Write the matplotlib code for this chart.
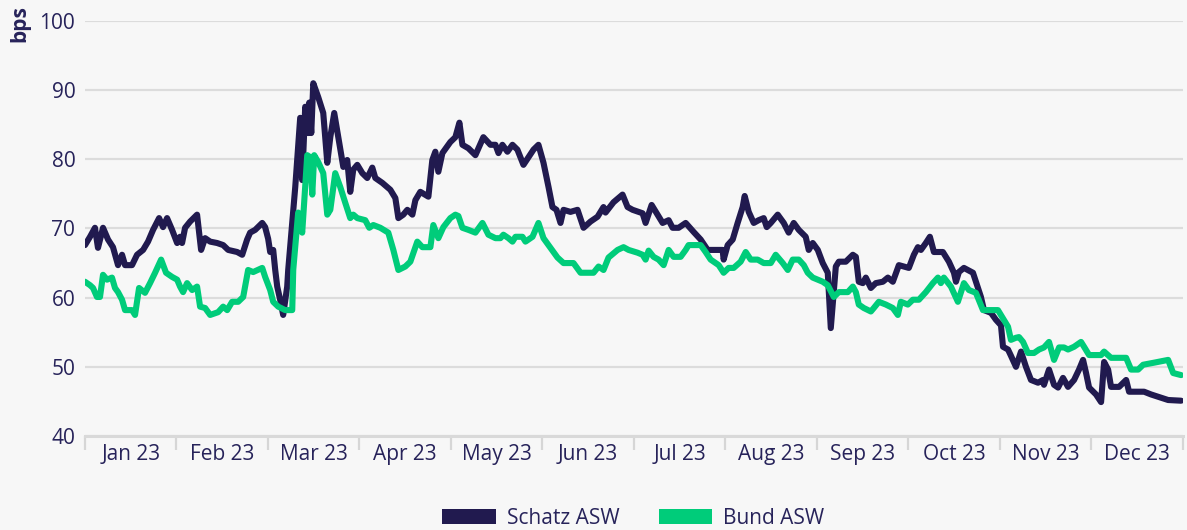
#!/usr/bin/env python
#
# Schatz vs Bund asset swap spreads, 2023
#
import numpy as np
import matplotlib
matplotlib.use("Agg")
from matplotlib import pyplot as plt
from matplotlib.patches import Patch

######################################################
# Data (time in months since 1 Jan 2023, value in bps)
######################################################
months = ["Jan 23", "Feb 23", "Mar 23", "Apr 23", "May 23", "Jun 23",
          "Jul 23", "Aug 23", "Sep 23", "Oct 23", "Nov 23", "Dec 23"]

schatz_t = [0.000, 0.055, 0.109, 0.142, 0.197, 0.252, 0.306, 0.361, 0.405, 0.438,
            0.514, 0.569, 0.635, 0.689, 0.744, 0.810, 0.853, 0.897, 0.952, 1.007,
            1.039, 1.061, 1.094, 1.149, 1.225, 1.269, 1.313, 1.368, 1.444, 1.510,
            1.565, 1.663, 1.718, 1.772, 1.805, 1.860, 1.937, 1.969, 2.002, 2.024,
            2.057, 2.079, 2.101, 2.133, 2.166, 2.210, 2.221, 2.265, 2.298, 2.352,
            2.374, 2.407, 2.440, 2.451, 2.473, 2.495, 2.549, 2.604, 2.648, 2.681,
            2.724, 2.768, 2.823, 2.866, 2.899, 2.932, 2.976, 3.031, 3.085, 3.140,
            3.173, 3.249, 3.337, 3.392, 3.425, 3.479, 3.523, 3.578, 3.611, 3.665,
            3.753, 3.796, 3.829, 3.862, 3.906, 3.993, 4.048, 4.092, 4.125, 4.190,
            4.267, 4.354, 4.431, 4.486, 4.519, 4.562, 4.617, 4.672, 4.726, 4.792,
            4.847, 4.902, 4.956, 5.011, 5.066, 5.109, 5.153, 5.197, 5.230, 5.306,
            5.383, 5.449, 5.525, 5.602, 5.667, 5.689, 5.777, 5.875, 5.930, 5.985,
            6.094, 6.127, 6.193, 6.258, 6.313, 6.379, 6.422, 6.488, 6.565, 6.652,
            6.729, 6.805, 6.893, 6.969, 6.980, 7.024, 7.079, 7.133, 7.188, 7.210,
            7.254, 7.309, 7.363, 7.418, 7.451, 7.495, 7.571, 7.637, 7.691, 7.746,
            7.801, 7.877, 7.910, 7.954, 8.009, 8.063, 8.118, 8.151, 8.206, 8.239,
            8.315, 8.392, 8.425, 8.457, 8.501, 8.534, 8.589, 8.643, 8.720, 8.775,
            8.829, 8.895, 8.950, 9.004, 9.059, 9.103, 9.136, 9.190, 9.234, 9.278,
            9.376, 9.442, 9.497, 9.519, 9.551, 9.606, 9.705, 9.737, 9.792, 9.825,
            9.902, 9.956, 10.011, 10.033, 10.088, 10.120, 10.175, 10.230, 10.284, 10.339,
            10.416, 10.470, 10.481, 10.536, 10.591, 10.635, 10.689, 10.744, 10.810, 10.864,
            10.908, 10.941, 10.974, 11.050, 11.105, 11.138, 11.182, 11.214, 11.302, 11.379,
            11.411, 11.575, 11.652, 11.838, 11.980]
schatz = [67.6, 68.8, 70.1, 67.2, 70.1, 68.4, 67.3, 64.7, 66.2, 64.7,
          64.7, 66.2, 66.9, 68.1, 69.8, 71.5, 70.2, 71.5, 69.8, 67.9,
          68.8, 67.9, 70.1, 71.0, 72.0, 66.9, 68.6, 68.1, 67.9, 67.6,
          66.9, 66.6, 66.2, 68.4, 69.4, 69.8, 70.8, 70.2, 68.5, 66.6,
          66.9, 64.0, 61.6, 59.7, 57.5, 61.6, 64.0, 70.8, 76.0, 86.0,
          77.0, 87.6, 83.8, 88.2, 83.8, 91.0, 89.0, 86.7, 79.5, 83.2,
          86.7, 83.2, 78.9, 79.9, 75.3, 78.5, 79.2, 78.0, 77.3, 78.8,
          77.3, 76.6, 75.6, 74.4, 71.5, 72.0, 72.7, 72.0, 74.1, 75.3,
          74.6, 79.9, 81.1, 78.2, 80.9, 82.5, 83.2, 85.3, 82.1, 81.6,
          80.6, 83.2, 82.1, 82.1, 80.9, 82.1, 81.1, 82.1, 81.4, 79.2,
          80.3, 81.4, 82.1, 79.5, 76.0, 73.1, 72.7, 70.8, 72.7, 72.4,
          72.7, 70.1, 71.0, 71.7, 73.1, 72.3, 73.8, 74.9, 73.1, 72.7,
          72.2, 70.8, 73.4, 72.0, 70.8, 71.2, 70.1, 70.1, 70.8, 69.5,
          68.4, 66.9, 66.9, 66.9, 65.5, 67.6, 68.4, 70.8, 73.1, 74.7,
          72.4, 70.8, 71.2, 71.5, 70.2, 70.8, 72.0, 70.8, 69.4, 70.8,
          69.8, 68.8, 66.9, 67.9, 66.9, 65.0, 63.6, 55.6, 64.5, 65.2,
          65.2, 66.2, 65.9, 62.3, 62.1, 62.9, 61.4, 62.1, 62.3, 62.9,
          62.3, 64.7, 64.5, 64.3, 66.2, 67.3, 66.9, 67.9, 68.8, 66.6,
          66.6, 65.2, 63.6, 62.3, 63.7, 64.3, 63.6, 62.3, 60.1, 58.2,
          57.8, 56.8, 56.0, 52.9, 52.5, 51.6, 50.0, 52.2, 50.0, 48.1,
          47.7, 48.1, 47.4, 49.6, 47.4, 47.0, 48.4, 47.1, 48.1, 49.6,
          51.0, 49.1, 47.0, 46.0, 44.9, 50.7, 49.6, 47.1, 47.1, 48.1,
          46.4, 46.4, 46.0, 45.2, 45.1]

bund_t = [0.000, 0.055, 0.088, 0.131, 0.164, 0.197, 0.241, 0.295, 0.328, 0.361,
          0.405, 0.438, 0.514, 0.547, 0.591, 0.656, 0.711, 0.766, 0.832, 0.886,
          0.952, 1.007, 1.039, 1.072, 1.116, 1.171, 1.225, 1.258, 1.313, 1.368,
          1.455, 1.510, 1.554, 1.608, 1.674, 1.729, 1.783, 1.838, 1.937, 1.969,
          2.024, 2.057, 2.112, 2.188, 2.265, 2.276, 2.330, 2.374, 2.429, 2.462,
          2.484, 2.505, 2.549, 2.604, 2.648, 2.681, 2.735, 2.790, 2.845, 2.899,
          2.932, 2.976, 3.063, 3.107, 3.151, 3.228, 3.315, 3.370, 3.425, 3.501,
          3.556, 3.632, 3.687, 3.775, 3.807, 3.862, 3.917, 3.993, 4.048, 4.081,
          4.125, 4.190, 4.267, 4.344, 4.409, 4.486, 4.540, 4.573, 4.628, 4.672,
          4.705, 4.781, 4.814, 4.891, 4.956, 5.011, 5.066, 5.164, 5.230, 5.339,
          5.416, 5.558, 5.613, 5.667, 5.722, 5.821, 5.886, 5.941, 6.039, 6.094,
          6.127, 6.160, 6.214, 6.269, 6.324, 6.379, 6.433, 6.510, 6.565, 6.597,
          6.729, 6.783, 6.838, 6.926, 6.980, 7.035, 7.090, 7.166, 7.221, 7.276,
          7.352, 7.418, 7.495, 7.549, 7.626, 7.681, 7.735, 7.801, 7.856, 7.899,
          7.954, 8.009, 8.063, 8.118, 8.184, 8.239, 8.337, 8.392, 8.425, 8.457,
          8.512, 8.589, 8.621, 8.676, 8.753, 8.829, 8.884, 8.917, 8.993, 9.048,
          9.114, 9.190, 9.267, 9.322, 9.354, 9.387, 9.464, 9.540, 9.606, 9.661,
          9.737, 9.814, 9.902, 9.978, 10.033, 10.088, 10.120, 10.175, 10.208, 10.252,
          10.306, 10.372, 10.427, 10.481, 10.536, 10.591, 10.646, 10.700, 10.744, 10.810,
          10.886, 10.919, 10.974, 11.105, 11.138, 11.214, 11.379, 11.433, 11.510, 11.565,
          11.685, 11.838, 11.893, 11.980]
bund = [62.3, 61.8, 61.4, 60.1, 60.1, 63.3, 62.6, 62.9, 61.4, 60.8,
        59.7, 58.2, 58.2, 57.5, 61.4, 60.7, 62.1, 63.6, 65.5, 63.6,
        63.0, 62.6, 61.6, 60.8, 62.1, 61.1, 61.6, 58.7, 58.5, 57.5,
        57.9, 58.7, 58.2, 59.4, 59.4, 60.1, 64.0, 63.7, 64.3, 63.0,
        61.1, 59.4, 58.7, 58.2, 58.2, 64.0, 72.3, 69.4, 80.6, 80.3,
        74.9, 80.6, 79.6, 78.0, 72.0, 72.7, 78.0, 76.0, 73.7, 71.5,
        72.0, 71.5, 71.2, 70.1, 70.5, 70.1, 69.4, 66.9, 64.0, 64.5,
        65.2, 68.1, 67.3, 67.3, 70.5, 68.6, 70.2, 71.5, 72.0, 71.8,
        70.1, 69.8, 69.4, 70.8, 69.1, 68.6, 68.6, 69.1, 68.6, 68.1,
        68.8, 68.8, 68.1, 68.8, 70.8, 68.6, 67.6, 65.8, 65.0, 65.0,
        63.6, 63.6, 64.5, 64.0, 65.8, 66.9, 67.3, 66.9, 66.5, 66.2,
        65.5, 66.8, 65.9, 65.5, 64.7, 66.9, 65.9, 65.9, 66.9, 67.6,
        67.6, 66.6, 65.5, 64.7, 63.6, 64.3, 64.3, 65.2, 66.6, 65.5,
        65.5, 65.0, 65.0, 66.2, 65.0, 64.0, 65.5, 65.5, 64.7, 63.6,
        62.9, 62.6, 62.3, 61.8, 60.1, 60.8, 60.8, 61.6, 60.8, 59.0,
        58.5, 58.0, 58.5, 59.4, 59.0, 58.5, 57.5, 59.4, 59.0, 59.7,
        59.7, 60.8, 62.1, 62.9, 62.1, 62.9, 61.6, 59.4, 62.1, 61.1,
        60.7, 58.2, 58.2, 58.2, 57.0, 55.8, 53.9, 54.2, 54.3, 53.6,
        52.0, 52.0, 52.5, 52.8, 53.6, 51.0, 52.8, 52.8, 52.5, 52.9,
        53.6, 52.9, 51.7, 51.7, 52.2, 51.3, 51.3, 49.6, 49.6, 50.3,
        50.6, 51.0, 49.1, 48.8]

yticks = [40, 50, 60, 70, 80, 90, 100]

######################################################
# Style
######################################################
navy = '#211a4f'
green = '#00cc7a'
text_col = '#27235a'
grid_col = '#dcdcdc'
bg = '#f7f7f7'
fs = 15

plt.rcParams['font.family'] = ['Open Sans', 'DejaVu Sans']
plt.rcParams['font.size'] = fs

fig = plt.figure(figsize=(11.87, 5.30), dpi=100, facecolor=bg)
ax = fig.add_axes([0.0716, 0.1774, 0.9250, 0.7830], facecolor=bg)

ax.plot(schatz_t, schatz, color=navy, lw=4.4, solid_joinstyle='round',
        solid_capstyle='round', zorder=3)
ax.plot(bund_t, bund, color=green, lw=4.4, solid_joinstyle='round',
        solid_capstyle='round', zorder=4)

ax.set_xlim(0, 12)
ax.set_ylim(40, 100)
ax.set_yticks(yticks)
ax.yaxis.grid(True, color=grid_col, lw=1.6, zorder=0)
ax.set_axisbelow(True)

# month boundaries as major ticks, labels at the middle of each month
ax.set_xticks(np.arange(0, 13))
ax.set_xticklabels([])
ax.set_xticks(np.arange(12) + 0.5, minor=True)
ax.set_xticklabels(months, minor=True)
ax.tick_params(axis='x', which='major', length=10, width=1.6, color='#d6d6d6')
ax.tick_params(axis='x', which='minor', length=0, pad=6, labelsize=fs,
               labelcolor=text_col)
ax.tick_params(axis='y', length=0, pad=7, labelsize=fs, labelcolor=text_col)

for s in ['top', 'right', 'left']:
    ax.spines[s].set_visible(False)
ax.spines['bottom'].set_color('#d9d9d9')
ax.spines['bottom'].set_linewidth(2.2)

fig.text(0.017, 0.99, 'bps', rotation=90, ha='center', va='top',
         fontsize=fs, fontweight='bold', color=text_col)

# legend centred under the plot area
handles = [Patch(facecolor=navy, label='Schatz ASW'),
           Patch(facecolor=green, label='Bund ASW')]
leg = fig.legend(handles=handles, loc='center', bbox_to_anchor=(0.5337, 0.022),
                 ncol=2, frameon=False, handlelength=2.55, handleheight=0.72,
                 handletextpad=0.53, columnspacing=1.92, fontsize=fs)
for t in leg.get_texts():
    t.set_color(text_col)

fig.savefig("out.png", dpi=100, facecolor=bg)
